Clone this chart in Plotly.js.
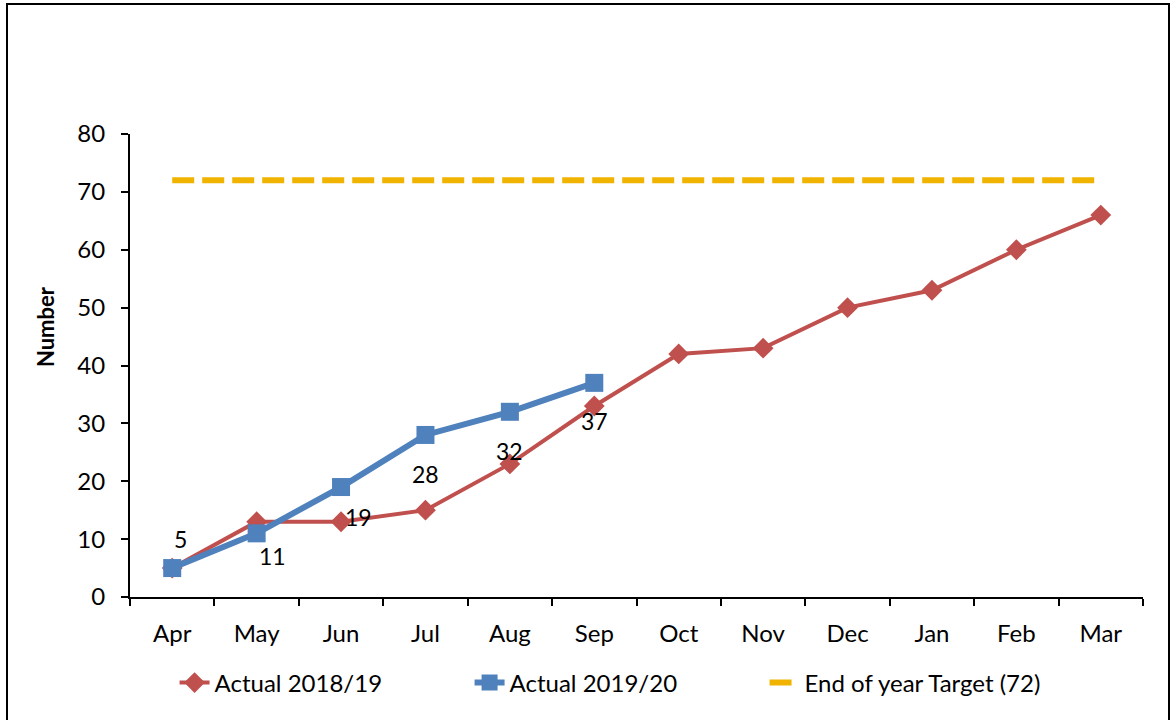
<!DOCTYPE html>
<html>
<head>
<meta charset="utf-8">
<script src="https://cdn.plot.ly/plotly-3.0.1.min.js"></script>
<style>
  html, body { margin: 0; padding: 0; background: #fff; }
  #wrap { position: relative; width: 1171px; height: 720px; overflow: hidden; }
  #chart { position: absolute; left: 0; top: 0; width: 1171px; height: 720px; }
  #frame { position: absolute; left: 6px; top: 3px; width: 1160px; height: 740px; border: 2px solid #000; pointer-events: none; }
</style>
</head>
<body>
<div id="wrap">
  <div id="chart"></div>
  <div id="frame"></div>
</div>
<script>
const months = ["Apr","May","Jun","Jul","Aug","Sep","Oct","Nov","Dec","Jan","Feb","Mar"];
const actual1819 = [5, 13, 13, 15, 23, 33, 42, 43, 50, 53, 60, 66];
const months1920 = ["Apr","May","Jun","Jul","Aug","Sep"];
const actual1920 = [5, 11, 19, 28, 32, 37];
const target = [72, 72, 72, 72, 72, 72, 72, 72, 72, 72, 72, 72];
// label offsets (pixels) for the 2019/20 data labels
const labelShiftX = [8, 16, 17, 0, 0, 0];
const labelShiftY = [29, -23, -30, -39, -39, -38];

const FONT = "Lato, 'Open Sans', sans-serif";

const traces = [
  {
    x: months, y: actual1819, name: "Actual 2018/19", type: "scatter", mode: "lines+markers",
    line: { color: "#C0504D", width: 4 },
    marker: { symbol: "diamond", size: 16, color: "#C0504D" }
  },
  {
    x: months1920, y: actual1920, name: "Actual 2019/20", type: "scatter", mode: "lines+markers",
    line: { color: "#4F81BD", width: 6 },
    marker: { symbol: "square", size: 18, color: "#4F81BD" }
  },
  {
    x: months, y: target, name: "End of year Target (72)", type: "scatter", mode: "lines",
    line: { color: "#F0B400", width: 6, dash: "22px,8px" }
  }
];

const annotations = actual1920.map((v, i) => ({
  x: months1920[i], y: v, xref: "x", yref: "y",
  text: String(v), showarrow: false,
  xshift: labelShiftX[i], yshift: labelShiftY[i],
  font: { family: FONT, size: 23, color: "#000" }
}));
annotations.push({
  xref: "paper", yref: "paper", x: -0.084, y: 0.585,
  text: "<b>Number</b>", textangle: -90, showarrow: false,
  xanchor: "center", yanchor: "middle",
  font: { family: FONT, size: 22, color: "#000" }
});

const layout = {
  width: 1171, height: 720,
  paper_bgcolor: "#fff", plot_bgcolor: "#fff",
  margin: { l: 130, r: 28, t: 134, b: 123, autoexpand: false },
  font: { family: FONT, size: 24, color: "#000" },
  showlegend: true,
  legend: {
    orientation: "h", x: 0.044, xanchor: "left", y: -0.137, yanchor: "top",
    entrywidth: 250, entrywidthmode: "pixels",
    font: { family: FONT, size: 24, color: "#000" }, bgcolor: "rgba(0,0,0,0)"
  },
  xaxis: {
    type: "category", categoryarray: months, range: [-0.5, 11.5],
    showline: true, linecolor: "#000", linewidth: 2,
    ticks: "outside", ticklen: 7, tickwidth: 2, tickcolor: "#000", tickson: "boundaries",
    ticklabelstandoff: 14,
    showgrid: false, zeroline: false, fixedrange: true,
    tickfont: { family: FONT, size: 24, color: "#000" }
  },
  yaxis: {
    range: [0, 80], dtick: 10, tick0: 0,
    showline: true, linecolor: "#000", linewidth: 2,
    ticks: "outside", ticklen: 7, tickwidth: 2, tickcolor: "#000",
    ticklabelstandoff: 11,
    showgrid: false, zeroline: false, fixedrange: true,
    tickfont: { family: FONT, size: 24, color: "#000" }
  },
  annotations: annotations
};

Plotly.newPlot("chart", traces, layout, { displayModeBar: false, staticPlot: true });
</script>
</body>
</html>
